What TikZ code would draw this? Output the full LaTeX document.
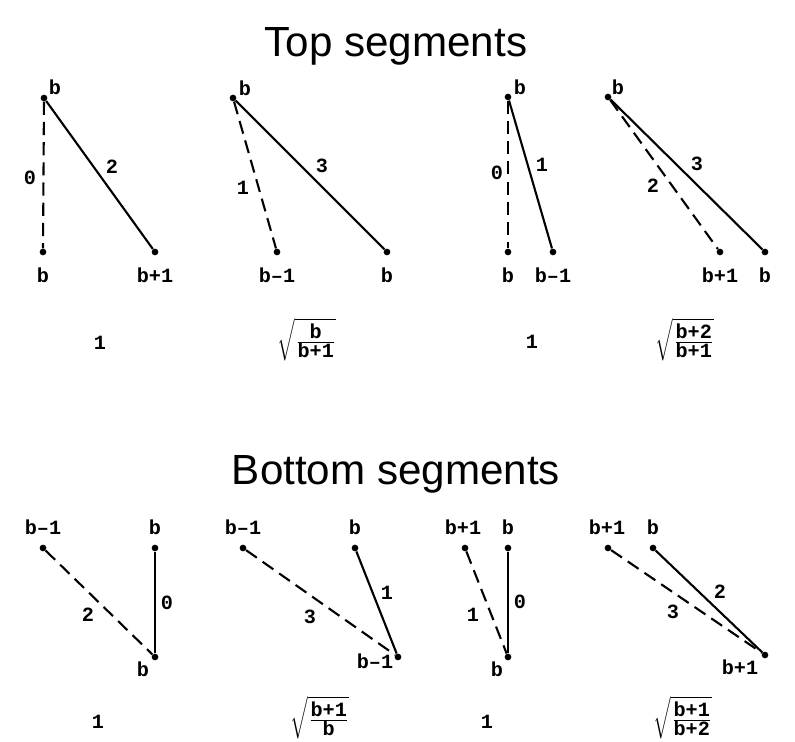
\documentclass[tikz,border=0pt]{standalone}
\usepackage{fontspec}
\setmainfont{Liberation Sans}
\newfontfamily\segfont{Liberation Mono}

\begin{document}
\begin{tikzpicture}[x=0.02cm,y=-0.02cm,
		dot/.style={circle,fill=black,inner sep=0pt,minimum size=3.8pt},
		lbl/.style={font={\segfont\bfseries\fontsize{11.5}{12}\selectfont},inner sep=0pt},
		seg/.style={line width=1.2pt},
		dseg/.style={line width=1.2pt,dash pattern=on 7.5pt off 4pt},
		heading/.style={font={\fontsize{24}{28}\selectfont},anchor=base,inner sep=0pt}]

				\useasboundingbox (0,0) rectangle (795,742);

				\node[heading] (toptitle) at (396,57) {Top segments};
				\node[heading] (bottomtitle) at (396,485) {Bottom segments};

				% top segments
				\node[dot] (ta) at (44,98) {};
				\node[dot] (tal) at (43,252) {};
				\node[dot] (tar) at (155,252) {};
				\draw[dseg] (ta) -- (tal);
				\draw[seg] (ta) -- (tar);
				\node[lbl] (ta-b) at (55,87) {b};
				\node[lbl] (tal-b) at (43,275) {b};
				\node[lbl] (tar-b) at (155,275) {b+1};
				\node[lbl] (ta-0) at (30,178) {0};
				\node[lbl] (ta-2) at (112,167) {2};
				\node[lbl] (ta-val) at (100,343) {1};

				\node[dot] (tb) at (233,98) {};
				\node[dot] (tbl) at (277,252) {};
				\node[dot] (tbr) at (387,252) {};
				\draw[dseg] (tb) -- (tbl);
				\draw[seg] (tb) -- (tbr);
				\node[lbl] (tb-b) at (245,88) {b};
				\node[lbl] (tbl-b) at (277,275) {b–1};
				\node[lbl] (tbr-b) at (387,275) {b};
				\node[lbl] (tb-1) at (243,188) {1};
				\node[lbl] (tb-3) at (322,166) {3};
				\node[lbl] (tb-val) at (307,340) {$\sqrt{\frac{\mbox{b}}{\mbox{b+1}}}$};

				\node[dot] (tc) at (508,97) {};
				\node[dot] (tcl) at (508,252) {};
				\node[dot] (tcr) at (553,252) {};
				\draw[dseg] (tc) -- (tcl);
				\draw[seg] (tc) -- (tcr);
				\node[lbl] (tc-b) at (520,87) {b};
				\node[lbl] (tcl-b) at (508,275) {b};
				\node[lbl] (tcr-b) at (553,275) {b–1};
				\node[lbl] (tc-0) at (497,173) {0};
				\node[lbl] (tc-1) at (542,165) {1};
				\node[lbl] (tc-val) at (532,342) {1};

				\node[dot] (td) at (608,97) {};
				\node[dot] (tdl) at (720,252) {};
				\node[dot] (tdr) at (765,252) {};
				\draw[dseg] (td) -- (tdl);
				\draw[seg] (td) -- (tdr);
				\node[lbl] (td-b) at (618,87) {b};
				\node[lbl] (tdl-b) at (720,275) {b+1};
				\node[lbl] (tdr-b) at (765,275) {b};
				\node[lbl] (td-2) at (653,186) {2};
				\node[lbl] (td-3) at (697,164) {3};
				\node[lbl] (td-val) at (685,340) {$\sqrt{\frac{\mbox{b+2}}{\mbox{b+1}}}$};

				% bottom segments
				\node[dot] (bal) at (43,548) {};
				\node[dot] (bar) at (155,548) {};
				\node[dot] (ba) at (155,657) {};
				\draw[dseg] (bal) -- (ba);
				\draw[seg] (bar) -- (ba);
				\node[lbl] (bal-b) at (43,527) {b–1};
				\node[lbl] (bar-b) at (155,527) {b};
				\node[lbl] (ba-b) at (143,669) {b};
				\node[lbl] (ba-2) at (88,615) {2};
				\node[lbl] (ba-0) at (167,603) {0};
				\node[lbl] (ba-val) at (98,722) {1};

				\node[dot] (bbl) at (243,548) {};
				\node[dot] (bbr) at (355,548) {};
				\node[dot] (bb) at (398,657) {};
				\draw[dseg] (bbl) -- (bb);
				\draw[seg] (bbr) -- (bb);
				\node[lbl] (bbl-b) at (243,527) {b–1};
				\node[lbl] (bbr-b) at (355,527) {b};
				\node[lbl] (bb-b) at (375,661) {b–1};
				\node[lbl] (bb-3) at (310,617) {3};
				\node[lbl] (bb-1) at (387,593) {1};
				\node[lbl] (bb-val) at (320,718) {$\sqrt{\frac{\mbox{b+1}}{\mbox{b}}}$};

				\node[dot] (bcl) at (465,548) {};
				\node[dot] (bcr) at (508,548) {};
				\node[dot] (bc) at (508,657) {};
				\draw[dseg] (bcl) -- (bc);
				\draw[seg] (bcr) -- (bc);
				\node[lbl] (bcl-b) at (463,527) {b+1};
				\node[lbl] (bcr-b) at (508,527) {b};
				\node[lbl] (bc-b) at (497,669) {b};
				\node[lbl] (bc-1) at (473,615) {1};
				\node[lbl] (bc-0) at (520,602) {0};
				\node[lbl] (bc-val) at (487,722) {1};

				\node[dot] (bdl) at (608,548) {};
				\node[dot] (bdr) at (653,548) {};
				\node[dot] (bd) at (765,655) {};
				\draw[dseg] (bdl) -- (bd);
				\draw[seg] (bdr) -- (bd);
				\node[lbl] (bdl-b) at (607,527) {b+1};
				\node[lbl] (bdr-b) at (653,527) {b};
				\node[lbl] (bd-b) at (740,667) {b+1};
				\node[lbl] (bd-2) at (720,592) {2};
				\node[lbl] (bd-3) at (673,612) {3};
				\node[lbl] (bd-val) at (683,718) {$\sqrt{\frac{\mbox{b+1}}{\mbox{b+2}}}$};

			\end{tikzpicture}
\end{document}
